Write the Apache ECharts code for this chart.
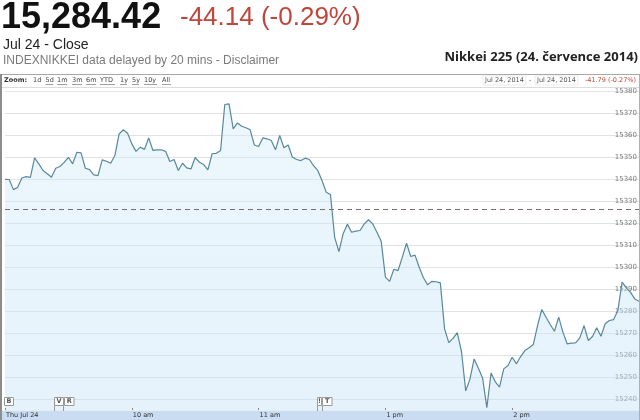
<!DOCTYPE html>
<html>
<head>
<meta charset="utf-8">
<script src="https://cdn.jsdelivr.net/npm/echarts@6/dist/echarts.min.js"></script>
<style>html,body{margin:0;padding:0;background:#fff}#c{width:640px;height:420px}</style>
</head>
<body>
<div id="c"></div>
<script>
// ---- data ----
const stepMinutes = 2; // sampling interval, trading minutes from 09:00 (lunch break removed)
const indexValues = [
15339.9, 15339.8, 15335.2, 15336.3, 15340.5, 15341.1, 15340.8, 15349.6, 15346.9, 15343.9,
15342.4, 15340.8, 15344.9, 15345.7, 15347.6, 15349.9, 15346.9, 15352.2, 15351.9, 15344.9,
15344.3, 15341.9, 15341.6, 15348.7, 15348.1, 15347.2, 15350.7, 15360.5, 15362.4, 15360.8,
15356.0, 15352.6, 15354.5, 15353.5, 15358.7, 15353.0, 15353.3, 15353.3, 15352.6, 15348.0,
15348.9, 15343.9, 15347.2, 15345.1, 15344.6, 15349.8, 15347.6, 15346.6, 15344.2, 15351.5,
15351.7, 15353.0, 15373.9, 15374.2, 15362.8, 15365.5, 15364.0, 15363.3, 15362.4, 15355.5,
15354.8, 15358.7, 15358.3, 15357.5, 15353.3, 15359.8, 15354.2, 15355.5, 15349.9, 15348.9,
15348.4, 15349.5, 15348.9, 15346.1, 15343.9, 15339.3, 15334.0, 15333.0, 15313.5, 15307.0,
15315.1, 15319.5, 15315.8, 15316.3, 15316.6, 15319.6, 15321.5, 15319.6, 15315.8, 15311.7,
15295.4, 15293.5, 15299.0, 15298.4, 15304.5, 15310.8, 15304.8, 15305.4, 15299.9, 15295.1,
15291.9, 15293.5, 15293.3, 15292.8, 15271.9, 15265.6, 15267.6, 15270.2, 15261.6, 15243.7,
15249.0, 15258.2, 15254.0, 15249.5, 15236.1, 15251.8, 15247.8, 15245.4, 15253.7, 15255.2,
15259.0, 15256.0, 15259.3, 15262.0, 15263.3, 15264.8, 15273.4, 15280.7, 15277.2, 15273.9,
15270.8, 15277.2, 15270.4, 15265.1, 15265.4, 15265.5, 15267.8, 15273.4, 15266.6, 15268.4,
15272.4, 15268.5, 15274.2, 15275.7, 15276.1, 15280.2, 15293.1, 15290.5, 15288.5, 15285.5,
15284.4
];
const previousClose = 15326.21;
const xTickLabels = ['Thu Jul 24', '10 am', '11 am', '1 pm', '2 pm', ''];
const yRange = [15235, 15381.4];
const lastPrice = '15,284.42';
const change = '-44.14 (-0.29%)';
const rangeChange = '-41.79 (-0.27%)';
const zoomLinks = ['1d', '5d', '1m', '3m', '6m', 'YTD', '1y', '5y', '10y', 'All'];

// ---- chart ----
const chart = echarts.init(document.getElementById('c'), null, {renderer: 'canvas'});
const seriesData = indexValues.map((v, i) => [i * stepMinutes, v]);
const F = 'DejaVu Sans';

const linkX = [33, 45.5, 57, 72, 86, 100, 120, 132, 144, 162];
const linkW = [0, 7.8, 10, 10, 10, 15, 7, 7, 13, 9];
const graphics = [];
graphics.push({type: 'rect', z: 100, shape: {x: 0, y: 0, width: 640, height: 87.5}, style: {fill: '#fff'}});
graphics.push({type: 'rect', z: 1, shape: {x: 2, y: 410.5, width: 637, height: 10}, style: {fill: '#c9dcf1'}});
graphics.push({type: 'line', z: 102, shape: {x1: 1, y1: 74.5, x2: 639, y2: 74.5}, style: {stroke: '#a8a8a8', lineWidth: 1}});
graphics.push({type: 'line', z: 102, shape: {x1: 2, y1: 87.5, x2: 639, y2: 87.5}, style: {stroke: '#dcdcdc', lineWidth: 1}});
graphics.push({type: 'line', z: 102, shape: {x1: 1, y1: 74, x2: 1, y2: 420}, style: {stroke: '#8c8c8c', lineWidth: 2}});
graphics.push({type: 'line', z: 102, shape: {x1: 639.5, y1: 74, x2: 639.5, y2: 420}, style: {stroke: '#b0b0b0', lineWidth: 1}});
function txt(text, x, y, font, fill, align, extra) {
  return Object.assign({type: 'text', z: 103, style: Object.assign({text, x, y, font, fill,
    align: align || 'left', textAlign: align || 'left', verticalAlign: 'middle', textVerticalAlign: 'middle'}, extra || {})});
}
graphics.push(txt(lastPrice, 1, 18, 'bold 36px "Liberation Sans"', '#111'));
graphics.push(txt(change, 180, 18, '26px "Liberation Sans"', '#c0463c'));
graphics.push(txt('Jul 24 - Close', 3, 45, '14px "Liberation Sans"', '#222'));
graphics.push(txt('INDEXNIKKEI data delayed by 20 mins - Disclaimer', 3, 61, '12px "Liberation Sans"', '#7a7a7a'));
graphics.push(txt('Nikkei 225 (24. července 2014)', 638, 57, 'bold 13px "Open Sans"', '#222', 'right'));
graphics.push(txt('Zoom:', 4, 80.5, 'bold 6.5px "DejaVu Sans"', '#333'));
zoomLinks.forEach((t, i) => {
  graphics.push(txt(t, linkX[i], 80.5, '6.5px "DejaVu Sans"', '#444'));
  if (linkW[i] > 0) graphics.push({type: 'line', z: 103, shape: {x1: linkX[i], y1: 84.5, x2: linkX[i] + linkW[i], y2: 84.5}, style: {stroke: '#777', lineWidth: 0.7}});
});
graphics.push(txt('Jul 24, 2014', 483, 80.5, '6.5px "DejaVu Sans"', '#555', 'left', {borderColor: '#ebebeb', borderWidth: 1, padding: [1, 2, 1, 2]}));
graphics.push(txt('-', 529, 80.5, '6.5px "DejaVu Sans"', '#555'));
graphics.push(txt('Jul 24, 2014', 535, 80.5, '6.5px "DejaVu Sans"', '#555', 'left', {borderColor: '#ebebeb', borderWidth: 1, padding: [1, 2, 1, 2]}));
graphics.push(txt(rangeChange, 636, 80.5, '6.5px "DejaVu Sans"', '#c0463c', 'right'));
function flag(label, x, w) {
  graphics.push({type: 'rect', z: 50, shape: {x: x + 0.5, y: 397.5, width: w, height: 8}, style: {fill: '#fff', stroke: '#9a9a9a', lineWidth: 1}});
  graphics.push(Object.assign(txt(label, x + 0.5 + w / 2, 401.8, 'bold 6.5px "DejaVu Sans"', '#555', 'center'), {z: 51}));
}
flag('B', 4, 9);
flag('V', 54, 9);
flag('R', 64, 9.5);
flag('!', 317, 4);
flag('T', 322, 9.5);
[54.5, 63.5, 317.5, 322.5].forEach(x => graphics.push({type: 'line', z: 50, shape: {x1: x, y1: 405.5, x2: x, y2: 411}, style: {stroke: '#9a9a9a', lineWidth: 1}}));

const option = {
  animation: false,
  backgroundColor: '#fff',
  grid: {left: 5, right: 1, top: 88, bottom: 10, containLabel: false},
  xAxis: {
    type: 'value', min: 0, max: 300, interval: 60, z: 5,
    axisLine: {show: false},
    axisTick: {show: true, inside: true, length: 2, lineStyle: {color: '#888'}},
    splitLine: {show: false},
    axisLabel: {
      formatter: v => xTickLabels[Math.round(v / 60)] || '',
      align: 'left', margin: 2, padding: [0, 0, 0, 1],
      fontSize: 6.5, fontFamily: F, color: '#333', showMaxLabel: false
    }
  },
  yAxis: {
    type: 'value', position: 'right', min: yRange[0], max: yRange[1], splitNumber: 15,
    axisLine: {show: false}, axisTick: {show: false},
    axisLabel: {
      inside: true, margin: 2, fontSize: 7, fontFamily: F, color: '#7a7a7a',
      padding: [0, 0, 4, 0],
      formatter: v => (Math.abs(v % 10) < 1e-6 ? String(Math.round(v)) : ''),
      showMinLabel: true, showMaxLabel: true
    },
    splitLine: {lineStyle: {color: '#e2e2e2', width: 1}, showMinLine: false, showMaxLine: false}
  },
  series: [{
    type: 'line', data: seriesData, showSymbol: false, symbol: 'none',
    lineStyle: {color: '#58889c', width: 1.2},
    areaStyle: {color: new echarts.graphic.LinearGradient(0, 0, 0, 1, [
      {offset: 0, color: 'rgba(210,235,250,0.6)'},
      {offset: 1, color: 'rgba(200,228,248,0.68)'}
    ])},
    markLine: {
      silent: true, symbol: ['none', 'none'], label: {show: false},
      lineStyle: {type: [5, 4], color: '#7d6b6b', width: 1},
      data: [{yAxis: previousClose}]
    }
  }],
  graphic: {elements: graphics}
};
chart.setOption(option);
</script>
</body>
</html>
